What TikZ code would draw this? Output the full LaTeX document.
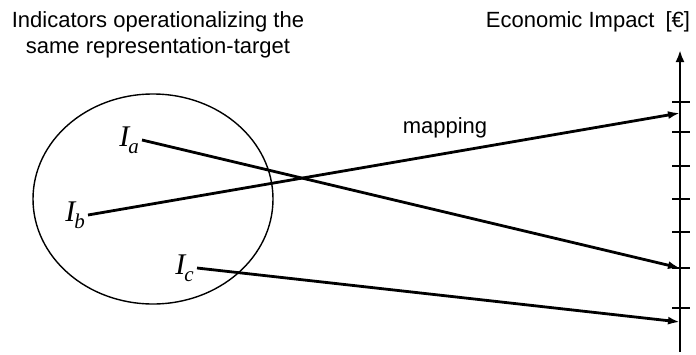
\documentclass[tikz,border=0pt]{standalone}
\usepackage{fontspec}
\setmainfont{Liberation Sans}
\newfontfamily\indFont{Liberation Serif}
\usetikzlibrary{positioning,calc,arrows.meta,shapes}
\newcommand{\indic}[1]{{\indFont\itshape I\kern-1pt\raisebox{-0.22em}{\fontsize{21}{21}\selectfont #1}}}
\tikzstyle{indicator}  = [inner sep=3pt, anchor=east, font=\fontsize{30}{30}\selectfont]
\tikzstyle{mapArrow}   = [line width=2.8pt, -{Latex[length=12pt,width=8pt]}]
\tikzstyle{scaleAxis}  = [line width=2.8pt, -{Latex[length=12pt,width=9pt]}]
\tikzstyle{scaleTick}  = [line width=1.6pt]
\tikzset{
  x=1pt, y=-1pt,
  every node/.style={font=\fontsize{22}{26}\selectfont},
  group/.style={draw, ellipse, line width=1.4pt, inner sep=0pt, minimum width=240pt, minimum height=210pt}
}
\begin{document}
\begin{tikzpicture}
			\useasboundingbox (0,0) rectangle (696,354);
			\node[group]   (indGroup) at (153,199) {};
			\node[inner sep=0pt, anchor=north, align=center] (indTitle) at (158,11) {Indicators operationalizing the\\same representation-target};
			\node[inner sep=0pt, anchor=base] (impTitle) at (588,27) {Economic Impact\enspace[€]};
			\node[indicator] (Ia) at (142,140) {\indic{a}};
			\node[indicator] (Ib) at (88,215) {\indic{b}};
			\node[indicator] (Ic) at (197,268) {\indic{c}};
			\coordinate (axisBottom) at (680,352);
			\coordinate (axisTop)    at (680,50);
			\coordinate (impA) at (680,268);
			\coordinate (impB) at (680,113);
			\coordinate (impC) at (680,322);
			\draw[scaleAxis] (axisBottom) -- (axisTop);
			\foreach \ty in {102,132,166,199,232,268,308}
				\draw[scaleTick] (672,\ty) -- (690,\ty);
			\draw[mapArrow]  (Ia.east) -- (impA);
			\draw[mapArrow]  (Ib.east) -- (impB);
			\draw[mapArrow]  (Ic.east) -- (impC);
			\node[inner sep=0pt, anchor=base] (mapLabel) at (445,133) {mapping};
		\end{tikzpicture}
\end{document}
